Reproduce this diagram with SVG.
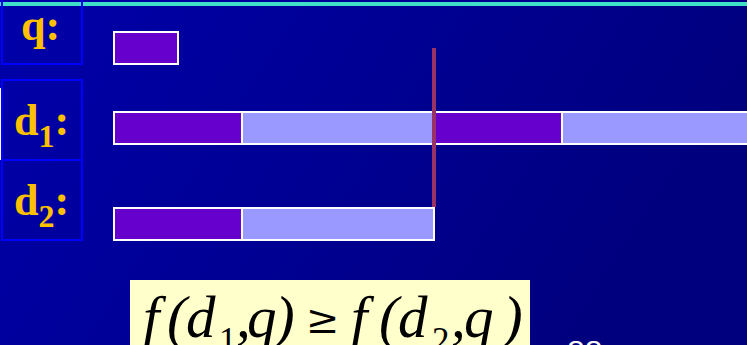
<svg xmlns="http://www.w3.org/2000/svg" width="747" height="345" viewBox="0 0 747 345">
<defs>
<linearGradient id="bg" x1="0" y1="0" x2="1" y2="0.3">
<stop offset="0" stop-color="#0000AA"/>
<stop offset="1" stop-color="#00007E"/>
</linearGradient>
</defs>
<style>
.lab{font-family:"Liberation Serif",serif;font-weight:bold;font-size:44px;fill:#FFC000}
.box{fill:none;stroke:#0000FF;stroke-width:2}
.dark{fill:#6600CC;stroke:#FFFFFF;stroke-width:2}
.light{fill:#9999FF;stroke:#FFFFFF;stroke-width:2}
.m{font-family:"Liberation Serif",serif;font-style:italic;font-size:59px;fill:#000000}
.s{font-family:"Liberation Serif",serif;font-size:35px;fill:#000000}
.ge{font-family:"DejaVu Serif",serif;font-size:40px;fill:#000000}
</style>
<rect x="0" y="0" width="747" height="345" fill="url(#bg)"/>
<rect x="0" y="2" width="747" height="4" fill="#40E0C8"/>
<rect x="0" y="88" width="2" height="72" fill="#FFFFFF"/>
<g id="label-q">
<rect class="box" x="2" y="-2" width="80" height="66"/>
<text class="lab" x="21" y="40">q:</text>
</g>
<g id="label-d1">
<rect class="box" x="2" y="80" width="80" height="80"/>
<text class="lab" x="14" y="135">d<tspan font-size="32" dy="12">1</tspan><tspan dy="-12">:</tspan></text>
</g>
<g id="label-d2">
<rect class="box" x="2" y="160" width="80" height="80"/>
<text class="lab" x="14" y="215">d<tspan font-size="32" dy="12">2</tspan><tspan dy="-12">:</tspan></text>
</g>
<g id="bar-q">
<rect class="dark" x="114" y="32" width="64" height="32"/>
</g>
<g id="bar-d1">
<rect class="dark" x="114" y="112" width="128" height="32"/>
<rect class="light" x="242" y="112" width="192" height="32"/>
<rect class="dark" x="434" y="112" width="128" height="32"/>
<rect class="light" x="562" y="112" width="200" height="32"/>
</g>
<g id="bar-d2">
<rect class="dark" x="114" y="208" width="128" height="32"/>
<rect class="light" x="242" y="208" width="192" height="32"/>
</g>
<g id="connectors">
<rect x="432" y="48" width="4" height="159" fill="#993366"/>
</g>
<g id="formula">
<rect x="130" y="280" width="400" height="70" fill="#FFFFCC"/>
<text class="m" y="337"><tspan x="143">f</tspan><tspan x="167">(</tspan><tspan x="186">d</tspan></text>
<text class="s" x="219" y="352">1</text>
<text class="m" y="337"><tspan x="236">,</tspan><tspan x="247">q</tspan><tspan x="275">)</tspan></text>
<text class="ge" x="306" y="333">≥</text>
<text class="m" y="337"><tspan x="351">f</tspan><tspan x="379">(</tspan><tspan x="398">d</tspan></text>
<text class="s" x="432" y="352">2</text>
<text class="m" y="337"><tspan x="451">,</tspan><tspan x="464">q</tspan><tspan x="503">)</tspan></text>
</g>
<text x="567" y="363" font-family="Liberation Sans, Arial, sans-serif" font-size="32" fill="#FFFFFF">88</text>
</svg>
